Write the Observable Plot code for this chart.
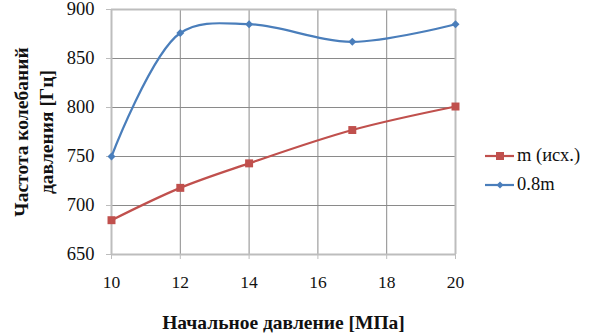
<!DOCTYPE html>
<html>
<head>
<meta charset="utf-8">
<script src="https://cdn.jsdelivr.net/npm/d3@7"></script>
<script src="https://cdn.jsdelivr.net/npm/@observablehq/plot@0.6"></script>
<style>
  html, body { margin: 0; padding: 0; background: #fff; }
  #wrap { position: relative; width: 589px; height: 336px; }
  #legend { position: absolute; left: 485px; top: 141px; font-family: 'Liberation Serif'; font-size: 18.5px; color: #111; }
  #legend .item { display: flex; align-items: center; height: 29px; }
  #legend svg { margin-right: 3px; }
</style>
</head>
<body>
<div id="wrap"></div>
<script>
const pressure = [10, 12, 14, 17, 20];
const freqBase = [685, 718, 743, 777, 801];
const freq08 = [750, 876, 885, 867, 885];
const seriesNames = ["m (исх.)", "0.8m"];
const seriesColors = ["#C0504D", "#4A7EBB"];
const xTicks = [10, 12, 14, 16, 18, 20];
const yTicks = [650, 700, 750, 800, 850, 900];
const xTitle = "Начальное давление [МПа]";
const yTitle = "Частота колебаний\nдавления [Гц]";
const FONT = "Liberation Serif";

const data = [
  ...pressure.map((p, i) => ({p, f: freqBase[i], s: seriesNames[0]})),
  ...pressure.map((p, i) => ({p, f: freq08[i], s: seriesNames[1]}))
];
const baseData = data.filter(d => d.s === seriesNames[0]);
const blueData = data.filter(d => d.s === seriesNames[1]);
const xIn = xTicks.slice(1, -1), yIn = yTicks.slice(1, -1);
const xEnds = [xTicks[0], xTicks[xTicks.length - 1]];
const yEnds = [yTicks[0], yTicks[yTicks.length - 1]];

const chart = Plot.plot({
  width: 589,
  height: 336,
  marginLeft: 111,
  marginRight: 134,
  marginTop: 9,
  marginBottom: 82,
  style: {fontFamily: FONT, fontSize: "18px", color: "#111", background: "#fff"},
  x: {domain: [10, 20]},
  y: {domain: [650, 900]},
  marks: [
    Plot.gridX(xIn, {stroke: "#8a8a8a", strokeOpacity: 1, strokeWidth: 1}),
    Plot.gridY(yIn, {stroke: "#8a8a8a", strokeOpacity: 1, strokeWidth: 1}),
    Plot.ruleX(xEnds, {stroke: "#bdbdbd", strokeWidth: 2}),
    Plot.ruleY(yEnds, {stroke: "#bdbdbd", strokeWidth: 2}),
    Plot.axisX(xTicks, {tickSize: 5, tickPadding: 16, stroke: "#bdbdbd", label: null, fontSize: 17.5, fontFamily: FONT}),
    Plot.axisY(yTicks, {tickSize: 5, tickPadding: 12, stroke: "#bdbdbd", label: null, fontSize: 18.5, fontFamily: FONT}),
    Plot.line(baseData, {x: "p", y: "f", stroke: seriesColors[0], strokeWidth: 2.2, curve: "catmull-rom"}),
    Plot.line(blueData, {x: "p", y: "f", stroke: seriesColors[1], strokeWidth: 2.2, curve: "catmull-rom"}),
    Plot.dot(baseData, {x: "p", y: "f", symbol: "square", fill: seriesColors[0], r: 4.5}),
    Plot.dot(blueData, {x: "p", y: "f", symbol: "diamond2", fill: seriesColors[1], r: 3.6}),
    Plot.text([xTitle], {frameAnchor: "bottom", dy: 68, lineAnchor: "middle", textAnchor: "middle", fontWeight: "bold", fontSize: 19.5, fontFamily: FONT, fill: "#111"}),
    Plot.text([yTitle], {frameAnchor: "left", dx: -79, dy: 0, rotate: -90, textAnchor: "middle", lineAnchor: "middle", lineHeight: 1.3, fontWeight: "bold", fontSize: 19.5, fontFamily: FONT, fill: "#111"})
  ]
});

const wrap = document.getElementById("wrap");
wrap.appendChild(chart);

const legend = document.createElement("div");
legend.id = "legend";
seriesNames.forEach((name, i) => {
  const item = document.createElement("div");
  item.className = "item";
  const sym = i === 0
    ? `<rect x="11" y="3" width="8" height="8" fill="${seriesColors[i]}"/>`
    : `<path d="M15 3.5 L18.5 7 L15 10.5 L11.5 7 Z" fill="${seriesColors[i]}"/>`;
  item.innerHTML = `<svg width="29" height="14"><line x1="0" y1="7" x2="29" y2="7" stroke="${seriesColors[i]}" stroke-width="2.2"/>${sym}</svg><span>${name}</span>`;
  legend.appendChild(item);
});
wrap.appendChild(legend);
</script>
</body>
</html>
